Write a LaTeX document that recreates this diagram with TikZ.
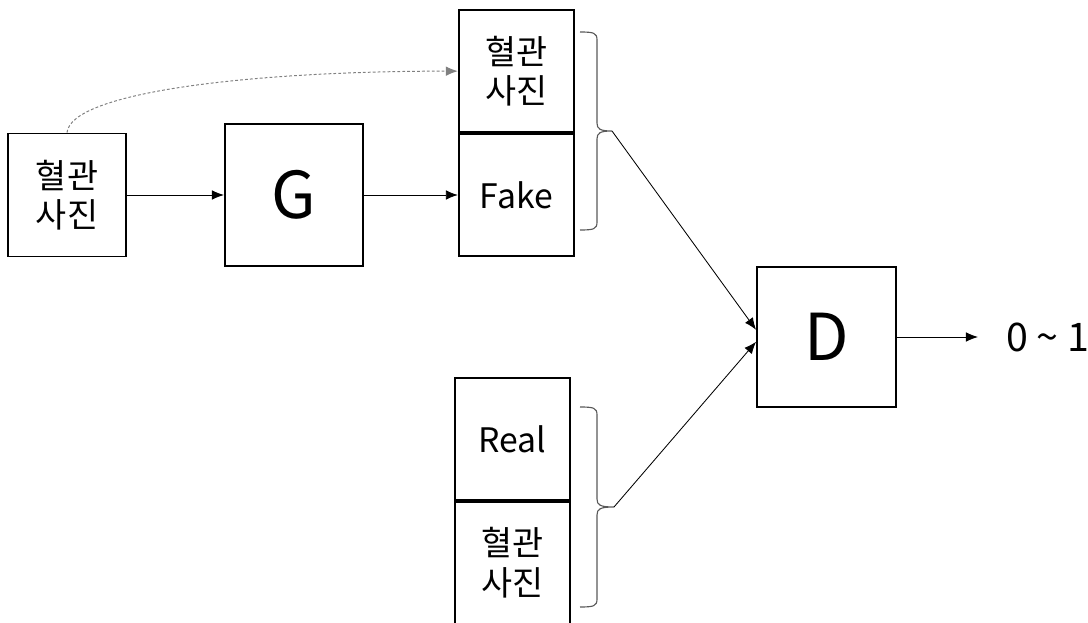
\documentclass[tikz,border=0pt]{standalone}
\usepackage{fontspec}
\setmainfont{Noto Sans CJK KR}
\usepackage{tikz}
\usetikzlibrary{arrows.meta, positioning}

\begin{document}
\begin{tikzpicture}[
    x=0.025cm, y=-0.025cm,
    node distance=2.4cm,
    box/.style={rectangle, draw, line width=1.3pt, inner sep=0pt, align=center, font=\fontsize{24}{28}\selectfont},
    net/.style={box, minimum width=3.45cm, minimum height=3.55cm, font=\fontsize{46}{50}\selectfont},
    img/.style={box, minimum width=2.875cm, minimum height=3.05cm},
    edge/.style={line width=0.6pt, -{Latex[length=3mm, width=2.4mm]}},
    hint/.style={gray, line width=0.7pt, dash pattern=on 2pt off 1.5pt, -{Latex[length=3mm, width=2.4mm]}},
    group/.style={line width=0.8pt, black!65}
]
    \useasboundingbox (0,0) rectangle (1088,623);

    \node[box, minimum width=2.95cm, minimum height=3.075cm] (vessel) at (67,195) {혈관\\사진};
    \node[net, right=2.425cm of vessel] (G) {G};
    \node[img, right=2.35cm of G] (fake) {Fake};
    \node[img, above=0pt of fake] (vesselA) {혈관\\사진};

    \node[img] (real) at (512.5,439) {Real};
    \node[img, below=0pt of real] (vesselB) {혈관\\사진};

    \node[net, minimum width=3.475cm, minimum height=3.5cm] (D) at (826.5,337) {D};
    \node[right=2.025cm of D, inner sep=0pt, inner xsep=0.7cm, font=\fontsize{28}{32}\selectfont] (score) {0 \textasciitilde{} 1};

    \draw[edge] (vessel) -- (G);
    \draw[edge] (G) -- (fake);
    \draw[hint] (vessel.north) .. controls +(4,-40) and +(-210,0) .. (vesselA.west);

    % square-ish braces around the two pairs
    \coordinate (pickA) at (612,131);
    \draw[group] (580,32) .. controls (594,32) and (597,33) .. (597,40) -- (597,123)
        .. controls (597,129) and (600,131) .. (pickA)
        .. controls (600,131) and (597,133) .. (597,139) -- (597,222)
        .. controls (597,229) and (594,230) .. (580,230);
    \coordinate (pickB) at (614,507);
    \draw[group] (580,407) .. controls (594,407) and (597,408) .. (597,415) -- (597,499)
        .. controls (597,505) and (600,507) .. (pickB)
        .. controls (600,507) and (597,509) .. (597,515) -- (597,599)
        .. controls (597,606) and (594,607) .. (580,607);

    \draw[edge] (pickA) -- ([yshift=0.18cm]D.west);
    \draw[edge] (pickB) -- ([yshift=-0.12cm]D.west);
    \draw[edge] (D) -- (score);
\end{tikzpicture}
\end{document}
